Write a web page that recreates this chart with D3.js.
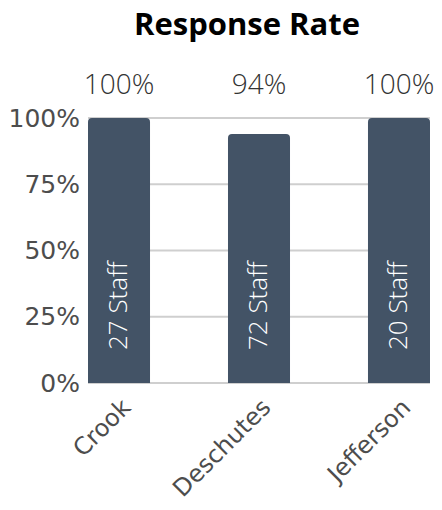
<!DOCTYPE html>
<html>
<head>
<meta charset="utf-8">
<script src="https://cdn.jsdelivr.net/npm/d3@7"></script>
<style>
  html, body { margin: 0; padding: 0; background: #fff; }
  svg { display: block; }
</style>
</head>
<body>
<svg id="chart" width="442" height="510"></svg>
<script>
// Response rate by county
const counties = ["Crook", "Deschutes", "Jefferson"];
const responseRate = [100, 94, 100];
const staffCounts = [27, 72, 20];
const yTicks = [0, 25, 50, 75, 100];
const chartTitle = "Response Rate";

const svg = d3.select("#chart");
const plot = { left: 88, right: 430, top: 118, bottom: 383 };
const axisFont = "'DejaVu Sans', Lato, sans-serif";

const x = d3.scaleBand()
  .domain(counties)
  .range([plot.left, plot.right])
  .paddingInner(0.557)
  .paddingOuter(0);

const y = d3.scaleLinear().domain([0, 100]).range([plot.bottom, plot.top]);

// Title
svg.append("text")
  .attr("x", 247).attr("y", 35)
  .attr("text-anchor", "middle")
  .style("font-family", "'Open Sans', sans-serif")
  .style("font-weight", 700)
  .style("font-size", "31px")
  .attr("fill", "#000")
  .text(chartTitle);

// Horizontal gridlines
svg.append("g")
  .selectAll("line")
  .data(yTicks)
  .join("line")
  .attr("x1", plot.left).attr("x2", plot.right)
  .attr("y1", d => y(d)).attr("y2", d => y(d))
  .attr("stroke", "#cfcfcf")
  .attr("stroke-width", 2);

// Y axis labels
const yAxis = d3.axisLeft(y).tickValues(yTicks).tickFormat(d => d + "%").tickSize(0).tickPadding(8);
const yg = svg.append("g").attr("transform", `translate(${plot.left},0)`).call(yAxis);
yg.select(".domain").remove();
yg.selectAll("text")
  .style("font-family", axisFont)
  .style("font-size", "25px")
  .attr("fill", "#4d4d4d");

// Bars with rounded top corners
const r = 4;
function barPath(x0, w, yTop, yBase) {
  return `M${x0},${yBase}V${yTop + r}Q${x0},${yTop} ${x0 + r},${yTop}` +
         `H${x0 + w - r}Q${x0 + w},${yTop} ${x0 + w},${yTop + r}V${yBase}Z`;
}

const data = counties.map((c, i) => ({ county: c, rate: responseRate[i], staff: staffCounts[i] }));

svg.append("g")
  .selectAll("path")
  .data(data)
  .join("path")
  .attr("d", d => barPath(x(d.county), x.bandwidth(), y(d.rate), y(0)))
  .attr("fill", "#435366");

// Value labels above the plot
svg.append("g")
  .selectAll("text")
  .data(data)
  .join("text")
  .attr("x", d => x(d.county) + x.bandwidth() / 2)
  .attr("y", 94)
  .attr("text-anchor", "middle")
  .style("font-family", "'Open Sans', sans-serif")
  .style("font-weight", 300)
  .style("font-size", "28px")
  .attr("fill", "#333")
  .text(d => d.rate + "%");

// Staff count labels inside bars
svg.append("g")
  .selectAll("text")
  .data(data)
  .join("text")
  .attr("transform", d => `translate(${x(d.county) + x.bandwidth() / 2 + 8},${y(0) - 33}) rotate(-90)`)
  .attr("text-anchor", "start")
  .style("font-family", "'Open Sans', sans-serif")
  .style("font-weight", 300)
  .style("font-size", "26px")
  .attr("fill", "#fff")
  .text(d => d.staff + " Staff");

// Category labels, rotated
svg.append("g")
  .selectAll("text")
  .data(data)
  .join("text")
  .attr("transform", d => `translate(${x(d.county) + x.bandwidth() / 2 + 13},${y(0) + 26}) rotate(-45)`)
  .attr("text-anchor", "end")
  .style("font-family", axisFont)
  .style("font-size", "24px")
  .attr("fill", "#4d4d4d")
  .text(d => d.county);
</script>
</body>
</html>
